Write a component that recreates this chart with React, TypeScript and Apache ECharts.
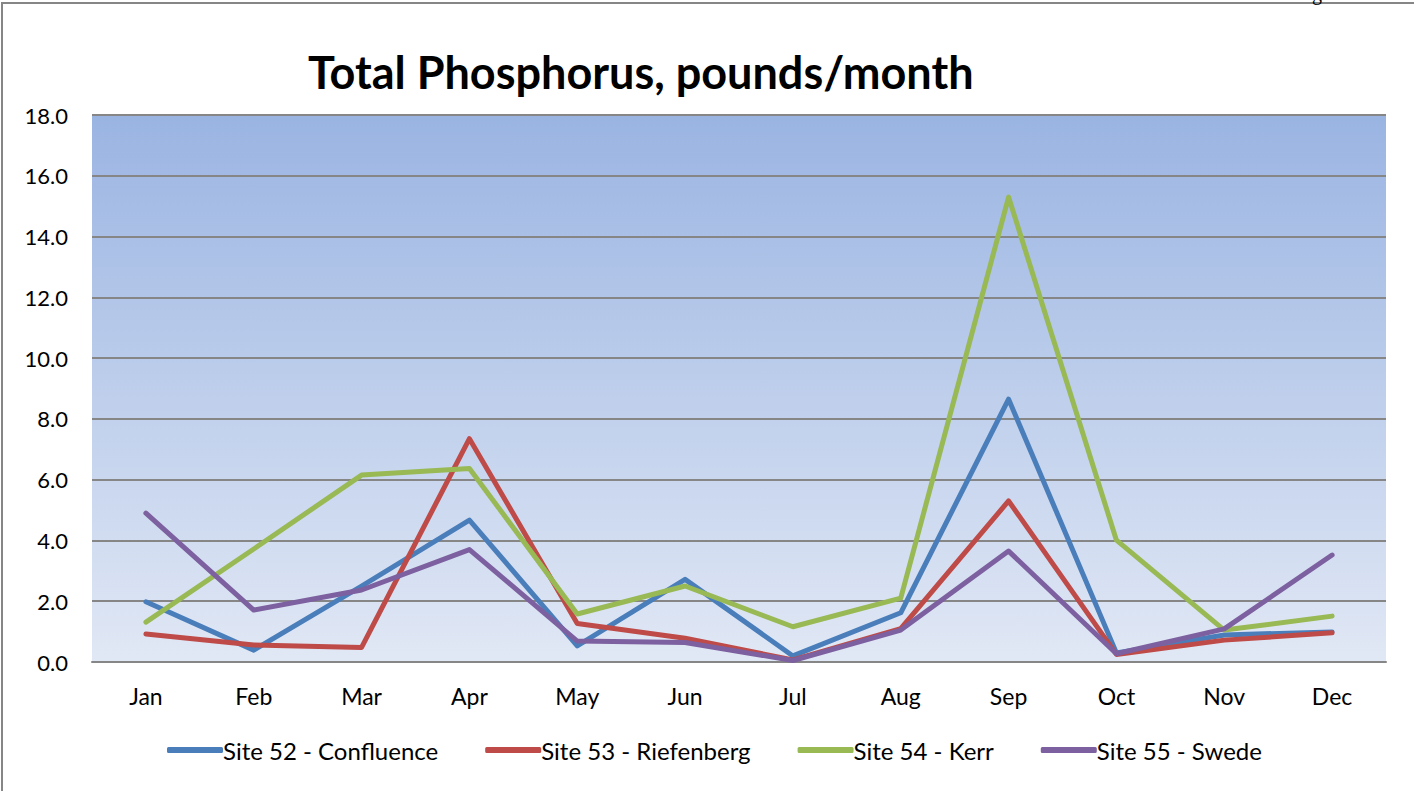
import React, { useEffect, useRef } from "react";
import * as echarts from "echarts";

const months = ["Jan", "Feb", "Mar", "Apr", "May", "Jun", "Jul", "Aug", "Sep", "Oct", "Nov", "Dec"];
const site52 = [1.98, 0.39, 2.5, 4.67, 0.53, 2.72, 0.2, 1.62, 8.65, 0.3, 0.89, 0.99];
const site53 = [0.92, 0.56, 0.48, 7.35, 1.27, 0.78, 0.07, 1.1, 5.3, 0.25, 0.72, 0.96];
const site54 = [1.31, 3.72, 6.15, 6.37, 1.58, 2.5, 1.16, 2.1, 15.3, 4.01, 1.05, 1.51];
const site55 = [4.9, 1.71, 2.37, 3.7, 0.69, 0.64, 0.05, 1.05, 3.65, 0.27, 1.09, 3.52];
const seriesNames = ["Site 52 - Confluence", "Site 53 - Riefenberg", "Site 54 - Kerr", "Site 55 - Swede"];
const seriesColors = ["#4A7EBB", "#BE4B48", "#98B954", "#7D60A0"];
const titleText = "Total Phosphorus, pounds/month";

const FONT = "Lato, 'Open Sans', sans-serif";

export default function App() {
  const ref = useRef<HTMLDivElement>(null);
  useEffect(() => {
    if (!ref.current) return;
    const chart = echarts.init(ref.current, undefined, { renderer: "svg" });
    const data = [site52, site53, site54, site55];
    chart.setOption({
      animation: false,
      backgroundColor: "#ffffff",
      textStyle: { fontFamily: FONT },
      title: {
        text: titleText,
        left: 303,
        top: 44,
        textStyle: { fontFamily: FONT, fontWeight: "bold", fontSize: 45, color: "#000" },
      },
      grid: {
        left: 92,
        right: 28,
        top: 115,
        bottom: 129,
        show: true,
        borderWidth: 0,
        backgroundColor: new echarts.graphic.LinearGradient(0, 0, 0, 1, [
          { offset: 0, color: "#9AB4E2" },
          { offset: 1, color: "#E1E8F5" },
        ]),
      },
      legend: {
        bottom: 24,
        left: 162,
        itemWidth: 56,
        itemHeight: 6,
        itemGap: 47,
        icon: "roundRect",
        data: seriesNames.map((n) => ({ name: n })),
        textStyle: { fontFamily: FONT, fontSize: 24, color: "#000", padding: [0, 0, 0, -5] },
      },
      xAxis: {
        type: "category",
        data: months,
        boundaryGap: true,
        axisLine: { show: true, lineStyle: { color: "#868686", width: 2 } },
        axisTick: { show: false },
        axisLabel: { fontFamily: FONT, fontSize: 23, color: "#000", margin: 22 },
      },
      yAxis: {
        type: "value",
        min: 0,
        max: 18,
        interval: 2,
        axisLine: { show: false },
        axisTick: { show: false },
        axisLabel: {
          fontFamily: FONT,
          fontSize: 22,
          color: "#000",
          margin: 24,
          formatter: (v: number) => v.toFixed(1),
        },
        splitLine: { show: true, lineStyle: { color: "#868686", width: 2 } },
      },
      series: seriesNames.map((name, i) => ({
        name,
        type: "line",
        data: data[i],
        showSymbol: false,
        symbol: "none",
        lineStyle: { color: seriesColors[i], width: 5, cap: "round", join: "round" },
        itemStyle: { color: seriesColors[i] },
      })),
      graphic: [
        {
          type: "rect",
          shape: { x: 2, y: 3, width: 1600, height: 1000 },
          style: { fill: "none", stroke: "#868686", lineWidth: 2 },
          silent: true,
        },
        {
          type: "text",
          x: 1312,
          y: 3,
          style: { text: "g", fontSize: 20, fontFamily: "serif", fill: "#000", verticalAlign: "bottom" },
          silent: true,
        },
      ],
    });
    return () => chart.dispose();
  }, []);
  return (
    <div
      ref={ref}
      style={{ position: "fixed", left: 0, top: 0, width: 1414, height: 791 }}
    />
  );
}
